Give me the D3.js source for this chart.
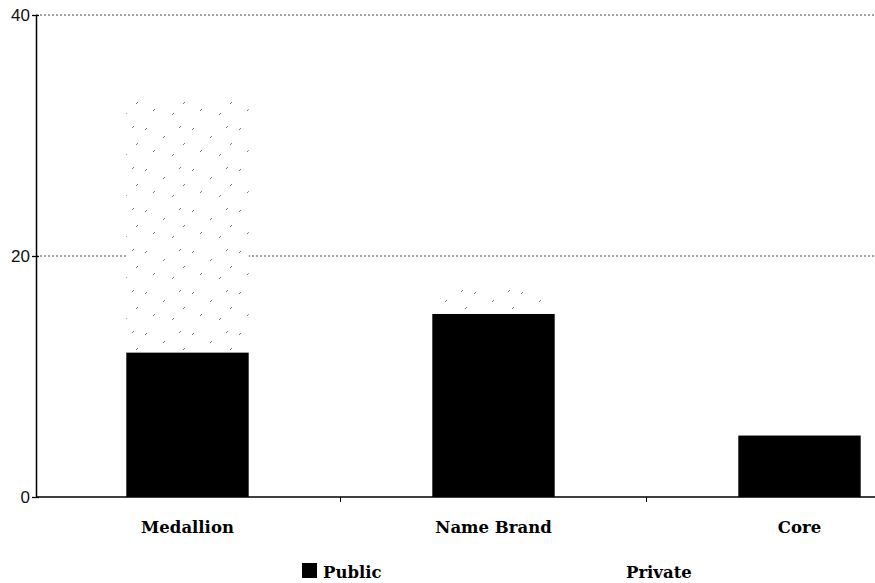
<!DOCTYPE html>
<html><head><meta charset="utf-8">
<script src="https://cdn.jsdelivr.net/npm/d3@7"></script>
<style>body{margin:0;background:#fff}svg{display:block}</style>
</head><body>
<svg id="c" width="875" height="583"></svg>
<script>
const categories = ["Medallion", "Name Brand", "Core"];
const publicVals = [12.0, 15.2, 5.1];
const privateVals = [21.0, 2.6, 0];
const yTicks = [0, 20, 40];
const seriesNames = ["Public", "Private"];

const svg = d3.select("#c");
const x0 = 34.5, bandW = 306;
const x = d3.scaleBand().domain(categories).range([x0, x0 + bandW * categories.length]).paddingInner(0.6).paddingOuter(0.3);
const y = d3.scaleLinear().domain([0, 40]).range([497, 15]);

// stipple pattern
const defs = svg.append("defs");
const pat = defs.append("pattern").attr("id", "stip").attr("patternUnits", "userSpaceOnUse")
  .attr("width", 47).attr("height", 41);
pat.append("rect").attr("width", 47).attr("height", 41).attr("fill", "#fff");
const marks = [[4,5],[22,13],[38,3],[12,27],[31,31],[42,20]];
marks.forEach(m => pat.append("path").attr("d", `M${m[0]},${m[1]+2}l2,-2`).attr("stroke", "#777").attr("stroke-width", 1));

// grid
svg.append("g").selectAll("line").data(yTicks.filter(t => t > 0)).join("line")
  .attr("x1", 36).attr("x2", 875).attr("y1", d => y(d)).attr("y2", d => y(d))
  .attr("stroke", "#444").attr("stroke-width", 1).attr("stroke-dasharray", "2,2");

// bars
const stackData = categories.map((c, i) => ({cat: c, Public: publicVals[i], Private: privateVals[i]}));
const stack = d3.stack().keys(seriesNames)(stackData);
const fills = {Public: "#000", Private: "url(#stip)"};
svg.append("g").selectAll("g").data(stack).join("g")
  .attr("fill", d => fills[d.key])
  .selectAll("rect").data(d => d.filter(v => v[1] - v[0] > 0)).join("rect")
  .attr("x", d => x(d.data.cat)).attr("width", x.bandwidth())
  .attr("y", d => y(d[1])).attr("height", d => y(d[0]) - y(d[1]));

// y axis
const ya = svg.append("g").attr("transform", "translate(36,0)")
  .call(d3.axisLeft(y).tickValues(yTicks).tickSize(4).tickSizeOuter(0));
ya.select(".domain").attr("stroke", "#000").attr("stroke-width", 1.5);
ya.selectAll(".tick line").attr("x2", 3).attr("x1", -4).attr("stroke-width", 1.3);
ya.selectAll(".tick text").attr("x", -6).style("font-family", "'Liberation Sans', Arial, sans-serif").style("font-size", "17px").attr("fill", "#111");

// x axis line
svg.append("line").attr("x1", 36).attr("x2", 875).attr("y1", y(0)).attr("y2", y(0)).attr("stroke", "#000").attr("stroke-width", 1.3);
const bounds = categories.slice(1).map(c => x(c) - (x.step() - x.bandwidth()) / 2);
svg.append("g").selectAll("line").data(bounds).join("line")
  .attr("x1", d => d).attr("x2", d => d).attr("y1", y(0)).attr("y2", y(0) + 5).attr("stroke", "#000");

// category labels
svg.append("g").selectAll("text").data(categories).join("text")
  .attr("x", d => x(d) + x.bandwidth() / 2).attr("y", 533).attr("text-anchor", "middle")
  .style("font-family", "'DejaVu Serif', serif").style("font-weight", "bold").style("font-size", "16.5px")
  .text(d => d);

// legend
const leg = svg.append("g");
const legX = [302, 626];
seriesNames.forEach((s, i) => {
  const g = leg.append("g").attr("transform", `translate(${legX[i]},0)`);
  if (s === "Public") g.append("rect").attr("x", 0).attr("y", 563).attr("width", 15).attr("height", 15).attr("fill", "#000");
  g.append("text").attr("x", i === 0 ? 21 : 0).attr("y", 578)
    .style("font-family", "'DejaVu Serif', serif").style("font-weight", "bold").style("font-size", "16.5px").text(s);
});
</script>
</body></html>
